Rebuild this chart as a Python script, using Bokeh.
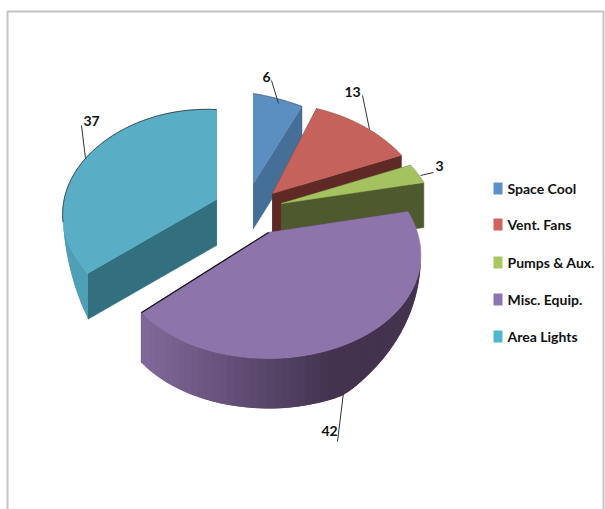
import math
from bokeh.plotting import figure
from bokeh.embed import file_html
from bokeh.resources import INLINE
from bokeh.core.properties import value

# Energy end-use shares shown in the exploded pie
categories = ["Space Cool", "Vent. Fans", "Pumps & Aux.", "Misc. Equip.", "Area Lights"]
shares = [6, 13, 3, 42, 37]
top_colors = ["#5b8ec1", "#c5625b", "#a5c261", "#8d74aa", "#59aec6"]
wall_colors = ["#456f97", "#5f2a26", "#4e5a2d", "#43334f", "#33707f"]
legend_colors = ["#5b91cb", "#d0635e", "#a9c65f", "#8f72b0", "#4fb6cf"]

# Layout of the pie in page pixels
apex_x = [253, 272, 281, 268, 216]
apex_y = [183, 193, 203, 232, 199]
depth = [45, 45, 45, 50, 46]
shear = [0.16, 0, 0, 0, 0.05]
width_scale = [1.1, 1, 1, 0.98, 0.99]
RX, RY, PERSP_X, PERSP_Y = 152, 108, 0.22, 0.167

FONT = value("Lato")

p = figure(width=605, height=509, x_range=(0, 605), y_range=(509, 0),
           toolbar_location=None, output_backend="svg", min_border=0,
           outline_line_color=None, background_fill_color="white",
           border_fill_color="white")
p.axis.visible = False
p.grid.visible = False


def project(i, theta):
    """Page position of a rim point of slice i, theta clockwise from the top."""
    s, c = math.sin(theta), math.cos(theta)
    dx = width_scale[i] * RX * s * (1 - PERSP_X * c)
    dy = -RY * c * (1 - PERSP_Y * c)
    return apex_x[i] + dx, apex_y[i] + dy + shear[i] * dx


def mix(a, b, t):
    ca = [int(a[k:k + 2], 16) for k in (1, 3, 5)]
    cb = [int(b[k:k + 2], 16) for k in (1, 3, 5)]
    return "#" + "".join(f"{round(x + (y - x) * t):02x}" for x, y in zip(ca, cb))


def ramp(x, lo, hi):
    return max(0.0, min(1.0, (x - lo) / (hi - lo)))


total = sum(shares)
edges = [0.0]
for v in shares:
    edges.append(edges[-1] + v / total * 2 * math.pi)

# Frame of the chart area
p.line([7, 7, 603, 603], [509, 11, 11, 509], line_color="#c4c4c4", line_width=2)

for i in [0, 1, 2, 4, 3]:
    a0, a1 = edges[i], edges[i + 1]
    n = 60
    angles = [a0 + (a1 - a0) * k / n for k in range(n + 1)]
    rim = [project(i, a) for a in angles]
    ax, ay = apex_x[i], apex_y[i]
    d = depth[i]

    # Cut faces running from the apex down to the rim
    for a in (a0, a1):
        ex, ey = project(i, a)
        p.patch([ax, ex, ex, ax], [ay, ey, ey + d, ay + d],
                fill_color=wall_colors[i], line_color=wall_colors[i], line_width=0.5)

    # Curved outer walls of the two large slices, overlapping strips avoid seams
    if i in (3, 4):
        for k in range(n - 1):
            deg = math.degrees(angles[k])
            if i == 3:
                drop0 = d * ramp(deg, 100, 155)
                drop1 = d * ramp(math.degrees(angles[k + 2]), 100, 155)
                col = mix("#7f6899", "#43334f", ramp(rim[k][0], 150, 335))
            else:
                drop0 = d * (1 - ramp(deg, a0 * 180 / math.pi, 254))
                drop1 = d * (1 - ramp(math.degrees(angles[k + 2]), a0 * 180 / math.pi, 254))
                col = "#4f9fb5"
            if drop0 <= 0 and drop1 <= 0:
                continue
            (x0, y0), (x1, y1) = rim[k], rim[k + 2]
            p.patch([x0, x1, x1, x0], [y0, y1, y1 + drop1, y0 + drop0],
                    fill_color=col, line_color=None)

    # Top surface
    p.patch([ax] + [q[0] for q in rim], [ay] + [q[1] for q in rim],
            fill_color=top_colors[i], line_color=top_colors[i], line_width=0.5)

# Dark rims on the edges facing the back
rim_alpha = {0: 0.35, 1: 0.2, 2: 0.2, 4: 0.7}
for i, alpha in rim_alpha.items():
    a0, a1 = edges[i], edges[i + 1]
    angles = [a0 + (a1 - a0) * k / 40 for k in range(41)]
    pts = [project(i, a) for a in angles if math.cos(a) > -0.3]
    p.line([q[0] for q in pts], [q[1] for q in pts], line_color="#222222",
           line_width=1, line_alpha=alpha)
x_end, y_end = project(3, edges[4])
p.line([x_end, apex_x[3]], [y_end, apex_y[3]], line_color="#111111", line_width=1.2)

# Value labels with their leader lines
label_x = [266, 352, 439, 329, 91]
label_y = [76, 91, 165, 430, 120]
lead_x = [[271, 278], [362, 369], [420, 433], [343, 337], [81, 85]]
lead_y = [[80, 103], [95, 129], [175, 172], [392, 441], [125, 158]]
for lx, ly in zip(lead_x, lead_y):
    p.line(lx, ly, line_color="#333333", line_width=1)
p.text(label_x, label_y, text=[str(v) for v in shares], text_font=FONT, text_font_style="bold",
       text_font_size="14px", text_color="#111111", text_align="center", text_baseline="middle")

# Legend
legend_y = [188, 224, 262, 299, 336]
p.rect([497.5] * 5, legend_y, width=9, height=12, fill_color=legend_colors, line_color=None)
p.text([507] * 5, legend_y, text=categories, text_font=FONT, text_font_style="bold",
       text_font_size="14px", text_color="#111111", text_align="left", text_baseline="middle")

open("out.html", "w").write(file_html(p, INLINE))
